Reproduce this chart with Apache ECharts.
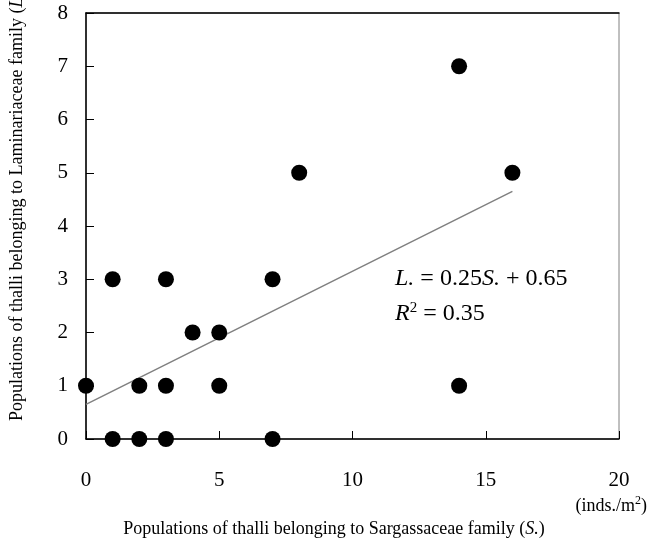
<!DOCTYPE html>
<html>
<head>
<meta charset="utf-8">
<script src="https://cdn.jsdelivr.net/npm/echarts@6/dist/echarts.min.js"></script>
<style>
  html, body { margin: 0; padding: 0; background: #fff; }
  #chart { width: 648px; height: 541px; }
</style>
</head>
<body>
<div id="chart"></div>
<script>
// Sargassaceae (S.) vs Laminariaceae (L.) populations
var sargassaceae = [0, 1, 1, 2, 2, 3, 3, 3, 4, 5, 5, 7, 7, 8, 14, 14, 16];
var laminariaceae = [1, 3, 0, 1, 0, 3, 1, 0, 2, 2, 1, 3, 0, 5, 7, 1, 5];
// regression L. = 0.25S. + 0.65
var slope = 0.25;
var intercept = 0.65;
var fitRange = [0, 16];

var points = sargassaceae.map(function (s, i) { return [s, laminariaceae[i]]; });
var fitLine = fitRange.map(function (s) { return [s, slope * s + intercept]; });

var serif = '"Liberation Serif", "Times New Roman", serif';
var chart = echarts.init(document.getElementById('chart'));

chart.setOption({
  animation: false,
  grid: {
    left: 86, right: 29, top: 13, bottom: 102,
    show: true, borderColor: '#808080', borderWidth: 1
  },
  xAxis: [{
    type: 'value', min: 0, max: 20, interval: 5,
    axisLine: { lineStyle: { color: '#000', width: 1.5 } },
    axisTick: { inside: true, length: 8, lineStyle: { color: '#000' } },
    axisLabel: { color: '#000', fontFamily: serif, fontSize: 21, margin: 31 },
    splitLine: { show: false }
  }, {
    type: 'value', position: 'top', min: 0, max: 20,
    axisLine: { lineStyle: { color: '#000', width: 1.5 } },
    axisTick: { show: false }, axisLabel: { show: false }, splitLine: { show: false }
  }],
  yAxis: {
    type: 'value', min: 0, max: 8, interval: 1,
    axisLine: { lineStyle: { color: '#000', width: 1.5 } },
    axisTick: { inside: true, length: 8, lineStyle: { color: '#000' } },
    axisLabel: { color: '#000', fontFamily: serif, fontSize: 21, margin: 18 },
    splitLine: { show: false }
  },
  series: [{
    type: 'line',
    data: fitLine,
    showSymbol: false,
    lineStyle: { color: '#808080', width: 1.5 },
    z: 1
  }, {
    type: 'scatter',
    data: points,
    symbol: 'circle',
    symbolSize: 16,
    clip: false,
    itemStyle: { color: '#000', opacity: 1 },
    z: 3
  }],
  graphic: [{
    type: 'text', x: 17, y: 421, rotation: Math.PI / 2,
    style: {
      text: 'Populations of thalli belonging to Laminariaceae family ({i|L.})',
      font: '18px ' + serif, fill: '#000',
      textAlign: 'left', textVerticalAlign: 'middle',
      rich: { i: { fontStyle: 'italic', fontFamily: serif, fontSize: 18 } }
    }
  }, {
    type: 'text', x: 334, y: 529,
    style: {
      text: 'Populations of thalli belonging to Sargassaceae family ({i|S.})',
      font: '18px ' + serif, fill: '#000',
      textAlign: 'center', textVerticalAlign: 'middle',
      rich: { i: { fontStyle: 'italic', fontFamily: serif, fontSize: 18 } }
    }
  }, {
    type: 'text', x: 647, y: 506,
    style: {
      text: '(inds./m{s|2})',
      font: '18px ' + serif, fill: '#000',
      textAlign: 'right', textVerticalAlign: 'middle',
      rich: { s: { fontSize: 12, fontFamily: serif, padding: [0, 0, 10, 0] } }
    }
  }, {
    type: 'text', x: 395, y: 279,
    style: {
      text: '{i|L.} = 0.25{i|S.} + 0.65',
      font: '24px ' + serif, fill: '#000',
      textAlign: 'left', textVerticalAlign: 'middle',
      rich: { i: { fontStyle: 'italic', fontFamily: serif, fontSize: 24 } }
    }
  }, {
    type: 'text', x: 395, y: 314,
    style: {
      text: '{i|R}{s|2} = 0.35',
      font: '24px ' + serif, fill: '#000',
      textAlign: 'left', textVerticalAlign: 'middle',
      rich: {
        i: { fontStyle: 'italic', fontFamily: serif, fontSize: 24 },
        s: { fontFamily: serif, fontSize: 15, padding: [0, 0, 12, 0] }
      }
    }
  }]
});
</script>
</body>
</html>
